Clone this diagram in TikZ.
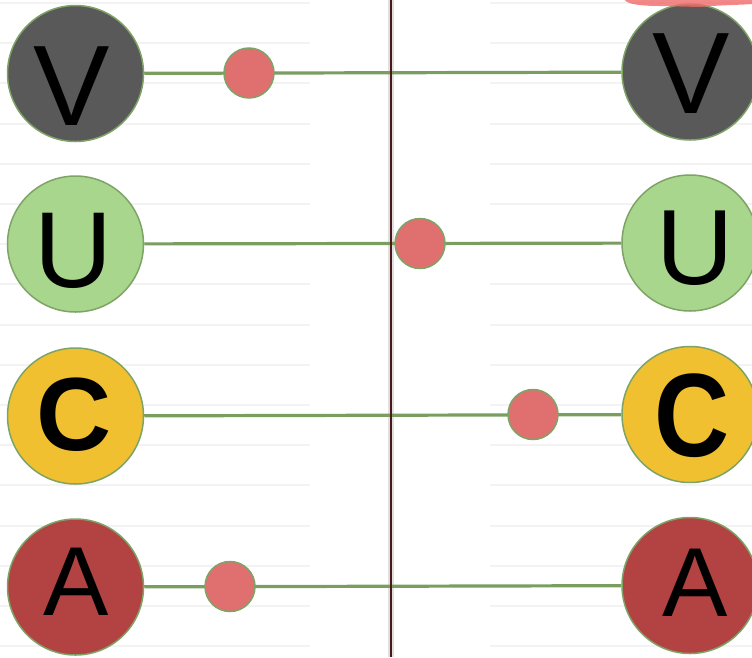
\documentclass[tikz,border=0pt]{standalone}
\usepackage{fontspec}
\setmainfont{Liberation Sans}
\definecolor{cdark}{HTML}{595959}
\definecolor{clight}{HTML}{A8D68C}
\definecolor{cyell}{HTML}{F0C030}
\definecolor{cred}{HTML}{B34242}
\definecolor{cdot}{HTML}{E07070}
\definecolor{cedge}{HTML}{7EA366}
\definecolor{cline}{HTML}{7A9E60}
\definecolor{cvert}{HTML}{4A1818}
\definecolor{cgrid}{HTML}{F3F3F3}
\definecolor{cblob}{HTML}{F06A6A}
\begin{document}
\begin{tikzpicture}[x=1pt,y=-1pt,
  big/.style={circle,draw=cedge,line width=1.5pt,minimum size=136pt,inner sep=0pt},
  dot/.style={circle,draw=cedge,line width=1.5pt,fill=cdot,minimum size=50pt,inner sep=0pt},
  letter/.style={inner sep=0pt,outer sep=0pt,text=black},
  conn/.style={draw=cline,line width=3.2pt},
  gridln/.style={draw=cgrid,line width=2pt}]
\useasboundingbox (0,0) rectangle (752,657);
% faint ruled lines
\foreach \k in {0,...,16}{
  \draw[gridln] (0,{3+40.2*\k}) -- (310,{3+40.2*\k});
  \draw[gridln] (490,{3+40.2*\k}) -- (752,{3+40.2*\k});
}
% vertical divider halo
\coordinate (vtop) at (391,0);
\coordinate (vbot) at (391,657);
\draw[line width=5.5pt,black!12] (vtop) -- (vbot);
% big circles
\node[big,fill=cdark] (vL) at (75.5,73.5) {};
\node[big,fill=clight] (uL) at (75.5,244) {};
\node[big,fill=cyell] (cL) at (75.5,416) {};
\node[big,fill=cred] (aL) at (75.5,587) {};
\node[big,fill=cdark] (vR) at (690,72) {};
\node[big,fill=clight] (uR) at (690,243) {};
\node[big,fill=cyell] (cR) at (690,414.5) {};
\node[big,fill=cred] (aR) at (690,585.5) {};
% letters
\node[letter,font=\fontsize{114.5}{114.5}\selectfont] (vLt) at (72,86) {V};
\node[letter,font=\fontsize{108}{108}\selectfont] (uLt) at (73,250.5) {U};
\node[letter,font=\fontsize{104}{104}\selectfont\bfseries] (cLt) at (74,415) {C};
\node[letter,font=\fontsize{98}{98}\selectfont] (aLt) at (76.5,582) {A};
\node[letter,font=\fontsize{116}{116}\selectfont] (vRt) at (691,73.5) {V};
\node[letter,font=\fontsize{107}{107}\selectfont] (uRt) at (695,248) {U};
\node[letter,font=\fontsize{104}{104}\selectfont\bfseries,yscale=1.14] (cRt) at (692,416) {C};
\node[letter,font=\fontsize{98}{98}\selectfont] (aRt) at (695.5,583) {A};
% connectors
\draw[conn] (vL) -- (vR);
\draw[conn] (uL) -- (uR);
\draw[conn] (cL) -- (cR);
\draw[conn] (aL) -- (aR);
% vertical divider
\draw[line width=2.5pt,cvert] (vtop) -- (vbot);
% dots
\node[dot] (vD) at (249,73) {};
\node[dot] (uD) at (420,243.5) {};
\node[dot] (cD) at (533,414.5) {};
\node[dot] (aD) at (230,586.5) {};
% red smear at the top right
\fill[cblob,opacity=0.8] (625,0) .. controls (627,4) and (640,6) .. (660,6) -- (700,7) .. controls (720,5) and (740,5) .. (752,4) -- (752,0) -- cycle;
\end{tikzpicture}
\end{document}
